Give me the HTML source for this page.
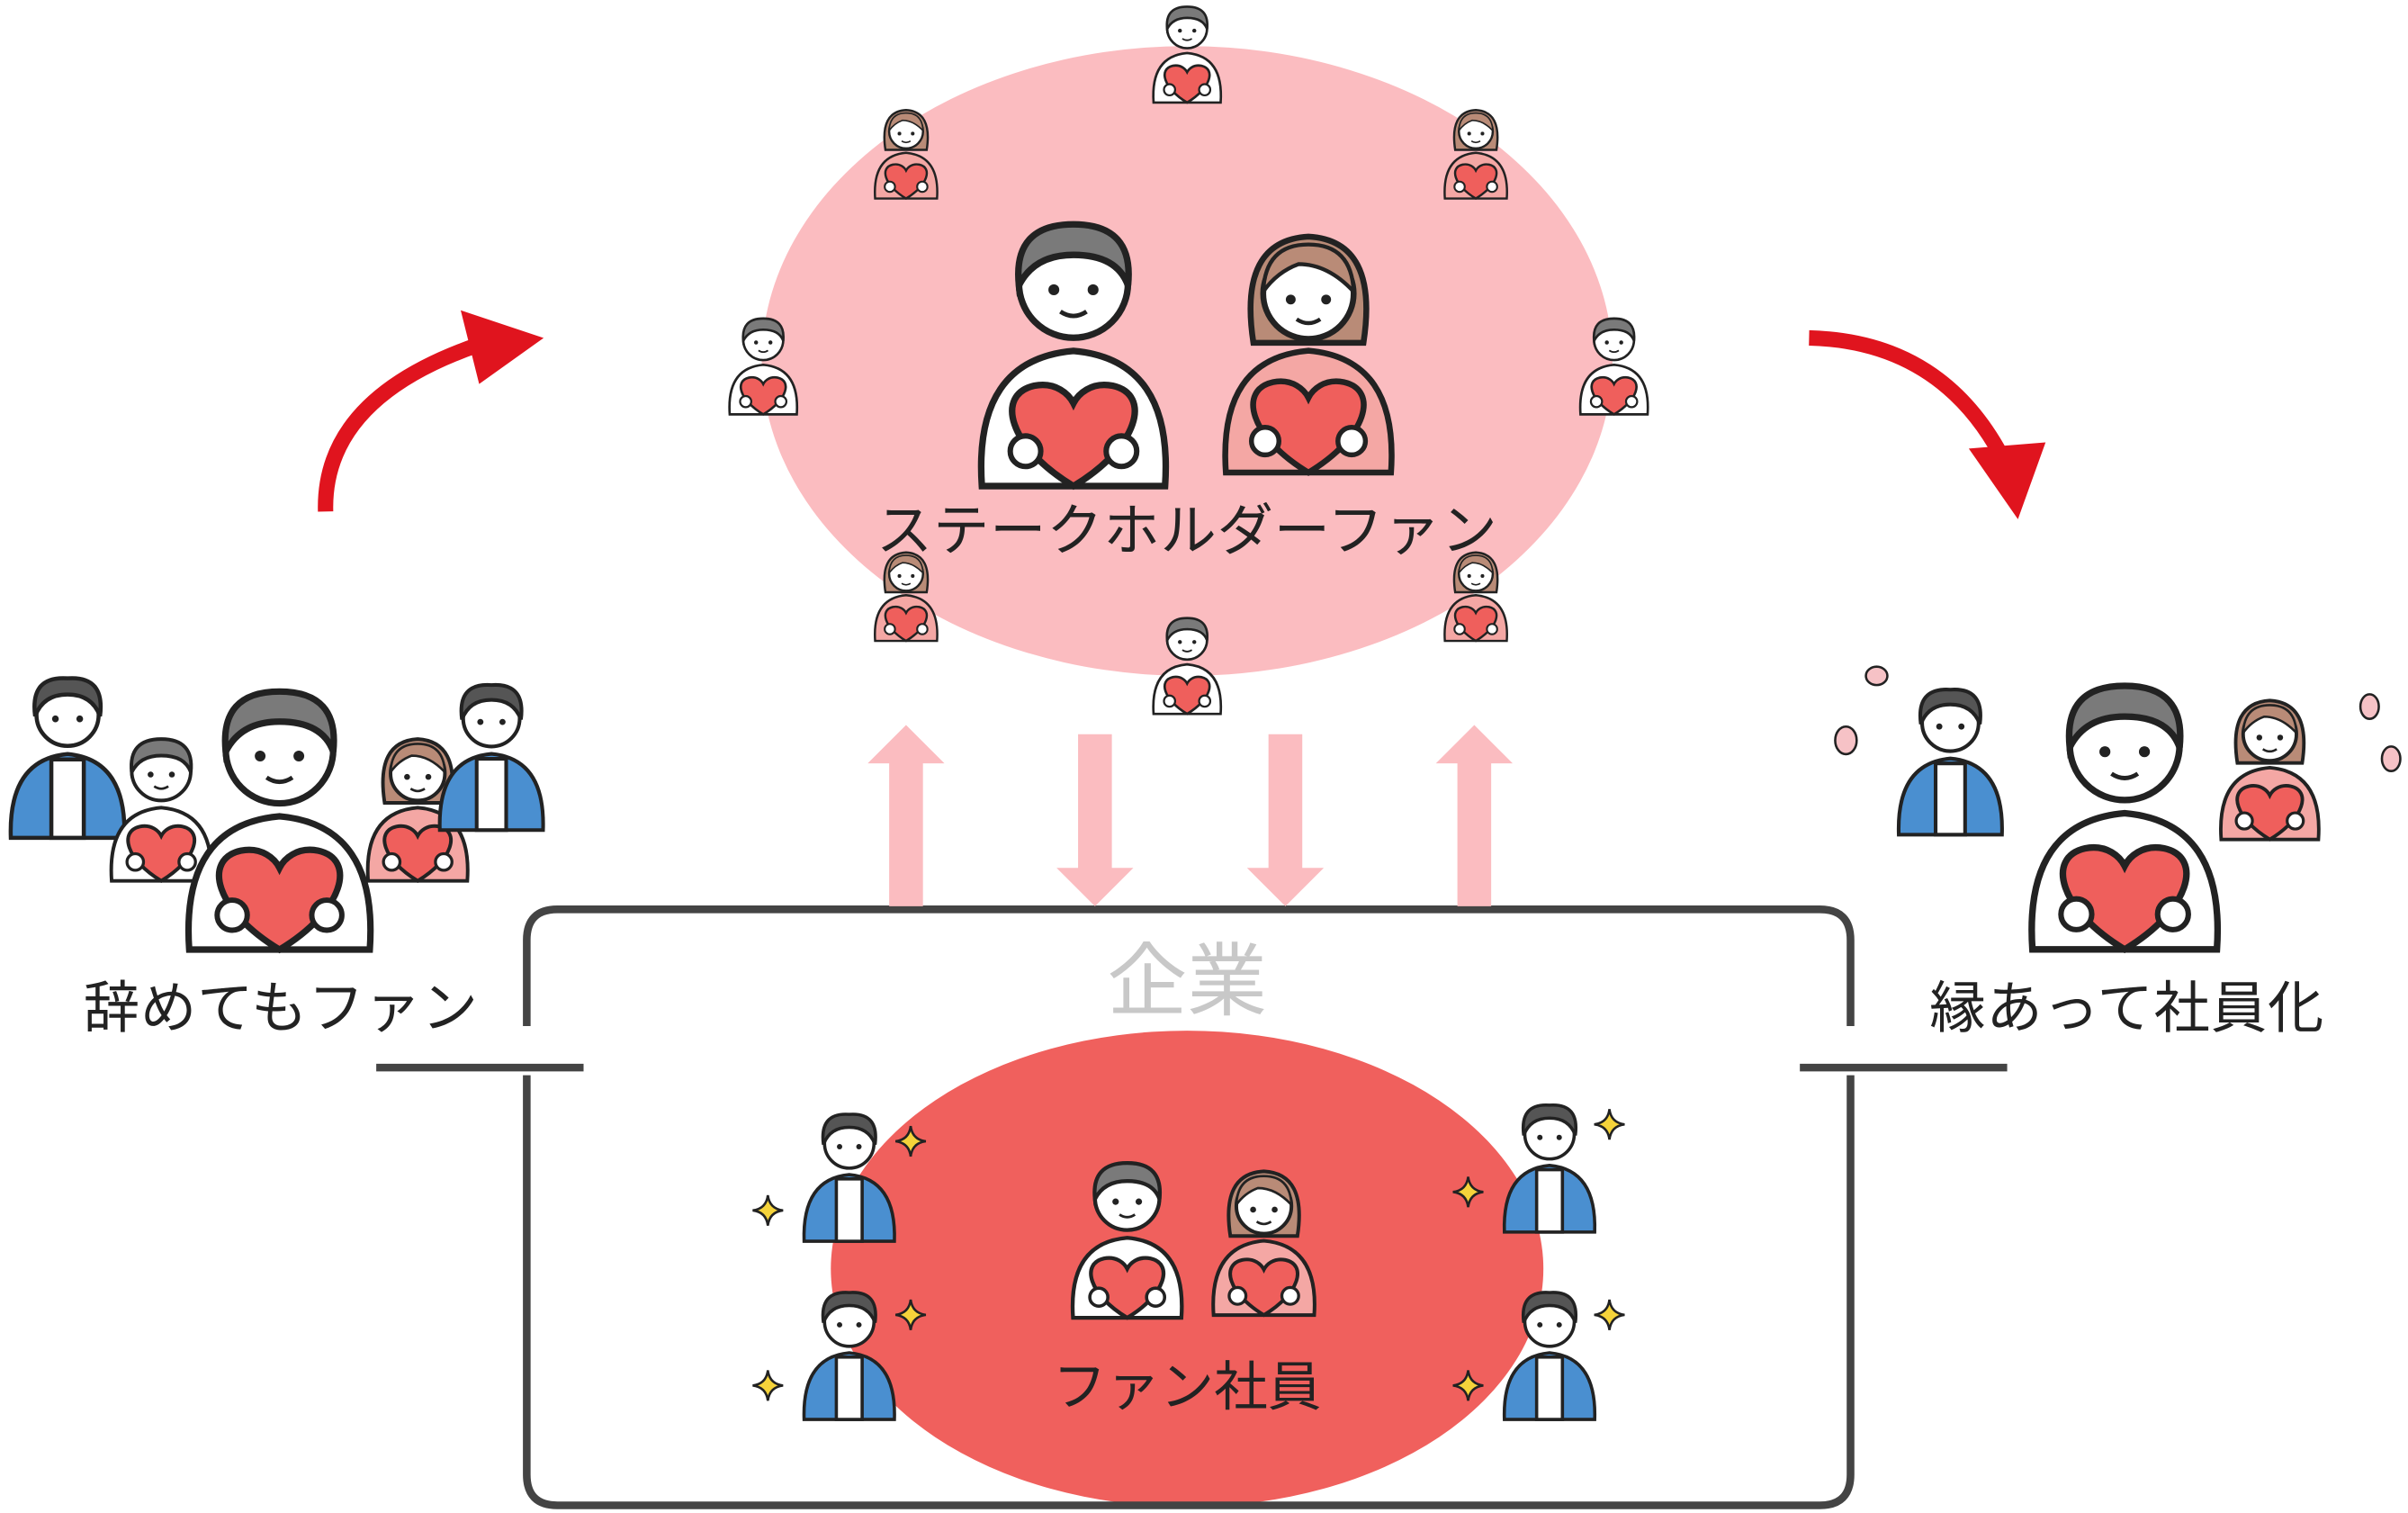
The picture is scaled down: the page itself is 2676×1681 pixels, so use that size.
<!DOCTYPE html>
<html><head><meta charset="utf-8"><style>
html,body{margin:0;padding:0;background:#fff}
svg{display:block}
text{font-family:"Liberation Sans","Noto Sans CJK JP",sans-serif}
</style></head><body>
<svg width="2676" height="1681" viewBox="0 0 1568 985" preserveAspectRatio="none" xmlns="http://www.w3.org/2000/svg">
<defs>
<symbol id="man" viewBox="0 0 100 130">
<path d="M8 128 Q4 70 50 66 Q96 70 92 128 Z" fill="#fff" stroke="#222" stroke-width="3"/>
<circle cx="50" cy="35" r="25" fill="#fff" stroke="#222" stroke-width="3"/>
<path d="M25 36 Q22 8 50 8 Q78 8 75 36 Q70 22 50 22 Q32 22 25 36Z" fill="#7a7a7a" stroke="#222" stroke-width="3"/>
<circle cx="41" cy="38" r="2.5" fill="#222"/><circle cx="59" cy="38" r="2.5" fill="#222"/>
<path d="M44 48 Q50 52 56 48" fill="none" stroke="#222" stroke-width="2"/>
<path d="M50 128 C20 110 14 86 32 82 C42 80 48 86 50 90 C52 86 58 80 68 82 C86 86 80 110 50 128Z" fill="#ef5f5c" stroke="#222" stroke-width="3"/>
<circle cx="28" cy="112" r="7" fill="#fff" stroke="#222" stroke-width="2.5"/><circle cx="72" cy="112" r="7" fill="#fff" stroke="#222" stroke-width="2.5"/>
</symbol>
<symbol id="woman" viewBox="0 0 100 130">
<path d="M8 128 Q4 70 50 66 Q96 70 92 128 Z" fill="#f4a7a4" stroke="#222" stroke-width="3"/>
<path d="M22 62 Q14 10 50 8 Q86 10 78 62 Z" fill="#b98b77" stroke="#222" stroke-width="3"/>
<circle cx="50" cy="37" r="23" fill="#fff" stroke="#222" stroke-width="3"/>
<path d="M27 36 Q28 12 50 12 Q72 12 73 36 Q60 22 45 22 Q34 26 27 36Z" fill="#b98b77" stroke="#222" stroke-width="2"/>
<circle cx="41" cy="40" r="2.5" fill="#222"/><circle cx="59" cy="40" r="2.5" fill="#222"/>
<path d="M44 50 Q50 54 56 50" fill="none" stroke="#222" stroke-width="2"/>
<path d="M50 128 C20 110 14 86 32 82 C42 80 48 86 50 90 C52 86 58 80 68 82 C86 86 80 110 50 128Z" fill="#ef5f5c" stroke="#222" stroke-width="3"/>
<circle cx="28" cy="112" r="7" fill="#fff" stroke="#222" stroke-width="2.5"/><circle cx="72" cy="112" r="7" fill="#fff" stroke="#222" stroke-width="2.5"/>
</symbol>
<symbol id="worker" viewBox="0 0 100 130">
<path d="M8 128 Q6 70 50 66 Q94 70 92 128 Z" fill="#4a8fd0" stroke="#222" stroke-width="3"/>
<rect x="38" y="70" width="24" height="58" fill="#fff" stroke="#222" stroke-width="3"/>
<circle cx="50" cy="37" r="23" fill="#fff" stroke="#222" stroke-width="3"/>
<path d="M26 38 Q22 8 50 10 Q78 8 74 38 Q68 22 50 22 Q32 22 26 38Z" fill="#555" stroke="#222" stroke-width="3"/>
<circle cx="41" cy="40" r="2.5" fill="#222"/><circle cx="59" cy="40" r="2.5" fill="#222"/>
</symbol>
<symbol id="star" viewBox="0 0 20 20"><path d="M10 0 Q11 9 20 10 Q11 11 10 20 Q9 11 0 10 Q9 9 10 0Z" fill="#f5d33a" stroke="#222" stroke-width="1.5"/></symbol>
</defs>

<ellipse cx="773" cy="235" rx="277" ry="205" fill="#fbbcc0"/>
<ellipse cx="773" cy="826" rx="232" ry="155" fill="#f0605d"/>

<path d="M343 668 V612 Q343 592 363 592 H1185 Q1205 592 1205 612 V668" fill="none" stroke="#444" stroke-width="5"/>
<path d="M343 700 V960 Q343 980 363 980 H1185 Q1205 980 1205 960 V700" fill="none" stroke="#444" stroke-width="5"/>
<line x1="245" y1="695" x2="380" y2="695" stroke="#444" stroke-width="5"/>
<line x1="1172" y1="695" x2="1307" y2="695" stroke="#444" stroke-width="5"/>

<g fill="#fbbcc0">
<path d="M579 590 V497 H565 L590 472 L615 497 H601 V590Z"/>
<path d="M949 590 V497 H935 L960 472 L985 497 H971 V590Z"/>
<path d="M702 478 V565 H688 L713 590 L738 565 H724 V478Z"/>
<path d="M826 478 V565 H812 L837 590 L862 565 H848 V478Z"/>
</g>

<path d="M212 333 Q210 260 310 225" fill="none" stroke="#e0141e" stroke-width="10"/>
<path d="M300 202 L354 220 L312 250Z" fill="#e0141e"/>
<path d="M1178 220 Q1265 222 1305 300" fill="none" stroke="#e0141e" stroke-width="10"/>
<path d="M1282 292 L1332 288 L1314 338Z" fill="#e0141e"/>

<text x="773" y="657" font-size="52" fill="#c8c8c8" text-anchor="middle">企業</text>

<use href="#man" x="628" y="133" width="142" height="188"/>
<use href="#woman" x="788" y="133" width="128" height="188"/>
<use href="#man" x="747" y="0" width="52" height="68"/>
<use href="#woman" x="566" y="66" width="48" height="66"/>
<use href="#woman" x="937" y="66" width="48" height="66"/>
<use href="#man" x="471" y="203" width="52" height="68"/>
<use href="#man" x="1025" y="203" width="52" height="68"/>
<use href="#woman" x="566" y="354" width="48" height="66"/>
<use href="#woman" x="937" y="354" width="48" height="66"/>
<use href="#man" x="747" y="398" width="52" height="68"/>
<text x="773" y="358" font-size="36.5" letter-spacing="0.5" fill="#222" text-anchor="middle">ステークホルダーファン</text>

<use href="#man" x="692" y="746" width="84" height="118"/>
<use href="#woman" x="784" y="750" width="78" height="114"/>
<use href="#worker" x="518" y="716" width="70" height="96"/>
<use href="#worker" x="518" y="832" width="70" height="96"/>
<use href="#worker" x="974" y="710" width="70" height="96"/>
<use href="#worker" x="974" y="832" width="70" height="96"/>
<use href="#star" x="583" y="733" width="20" height="20"/><use href="#star" x="490" y="778" width="20" height="20"/>
<use href="#star" x="583" y="846" width="20" height="20"/><use href="#star" x="490" y="892" width="20" height="20"/>
<use href="#star" x="1038" y="722" width="20" height="20"/><use href="#star" x="946" y="766" width="20" height="20"/>
<use href="#star" x="1038" y="846" width="20" height="20"/><use href="#star" x="946" y="892" width="20" height="20"/>
<text x="773" y="915" font-size="35" fill="#222" text-anchor="middle">ファン社員</text>

<use href="#worker" x="0" y="420" width="88" height="140"/>
<use href="#man" x="55" y="475" width="100" height="100"/>
<use href="#woman" x="232" y="475" width="80" height="100"/>
<use href="#worker" x="280" y="425" width="80" height="130"/>
<use href="#man" x="112" y="435" width="140" height="190"/>
<text x="183" y="669" font-size="36.5" letter-spacing="0.5" fill="#222" text-anchor="middle">辞めてもファン</text>

<use href="#worker" x="1230" y="438" width="80" height="110"/>
<use href="#woman" x="1432" y="450" width="92" height="98"/>
<use href="#man" x="1312" y="433" width="143" height="190"/>
<g fill="#f6c2c6" stroke="#222" stroke-width="1.5">
<ellipse cx="1222" cy="440" rx="7" ry="6"/><ellipse cx="1202" cy="482" rx="7" ry="9"/>
<ellipse cx="1543" cy="460" rx="6" ry="8"/><ellipse cx="1557" cy="494" rx="6" ry="8"/>
</g>
<text x="1385" y="669" font-size="36.5" letter-spacing="0.5" fill="#222" text-anchor="middle">縁あって社員化</text>
</svg>
</body></html>
